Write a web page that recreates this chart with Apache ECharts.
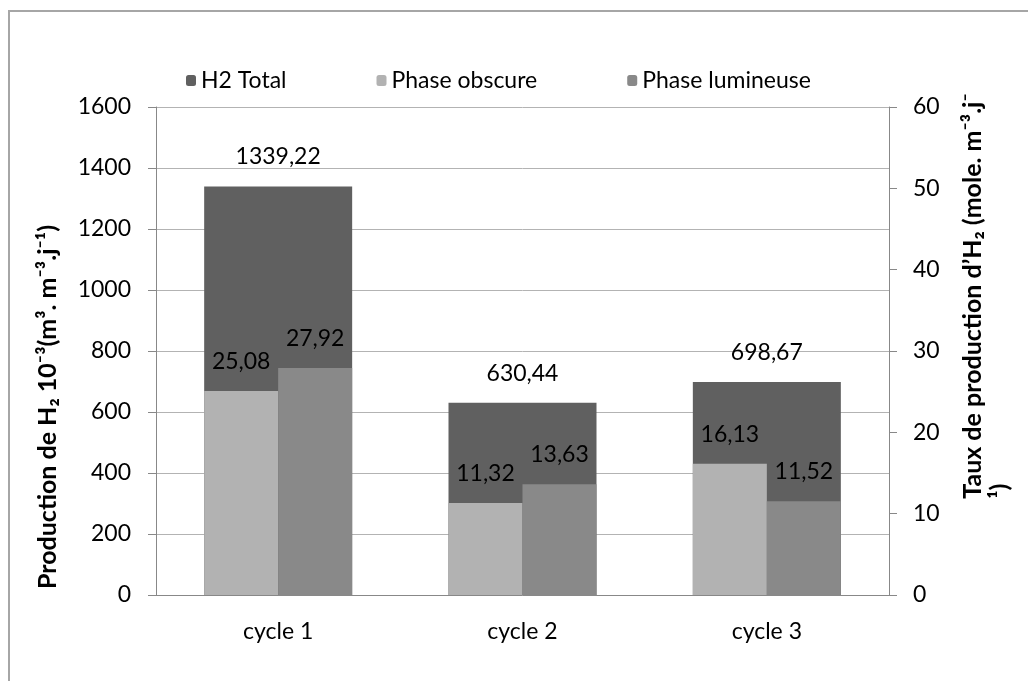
<!DOCTYPE html>
<html>
<head>
<meta charset="utf-8">
<script src="https://cdn.jsdelivr.net/npm/echarts@6/dist/echarts.min.js"></script>
<style>
  html, body { margin: 0; padding: 0; background: #fff; }
  #chart { width: 1028px; height: 681px; }
</style>
</head>
<body>
<div id="chart"></div>
<script>
  // values
  var categories = ["cycle 1", "cycle 2", "cycle 3"];
  var h2Total = [1339.22, 630.44, 698.67];
  var phaseObscure = [25.08, 11.32, 16.13];
  var phaseLumineuse = [27.92, 13.63, 11.52];
  var leftTicks = [0, 1600, 200];
  var rightTicks = [0, 60, 10];

  var font = "Lato, 'Liberation Sans', sans-serif";
  var fs = 23;

  function frNum(p) {
    return p.value.toFixed(2).replace(".", ",");
  }

  var titleRich = {
    b: { fontFamily: font, fontSize: 25, fontWeight: "bold", color: "#000", lineHeight: 27, align: "left" }
  };

  var chart = echarts.init(document.getElementById("chart"));

  var barLabel = {
    show: true,
    position: "top",
    distance: 18,
    fontSize: fs,
    color: "#000",
    fontFamily: font,
    formatter: frNum
  };

  chart.setOption({
    animation: false,
    textStyle: { fontFamily: font },
    graphic: [{
      type: "rect",
      shape: { x: 9, y: 11, width: 1100, height: 800 },
      style: { fill: "none", stroke: "#a6a6a6", lineWidth: 2 },
      silent: true
    }],
    legend: {
      left: 181,
      top: 64,
      itemWidth: 10,
      itemHeight: 11,
      itemGap: 90,
      textStyle: { fontSize: fs, color: "#000", fontFamily: font },
      data: ["H2 Total", "Phase obscure", "Phase lumineuse"]
    },
    grid: {
      left: 156,
      right: 139,
      top: 107,
      bottom: 86
    },
    xAxis: [
      {
        type: "category",
        data: categories,
        axisLine: { lineStyle: { color: "#888", width: 1 } },
        axisTick: { show: false },
        axisLabel: { fontSize: fs, color: "#000", margin: 25, fontFamily: font }
      },
      {
        type: "category",
        data: categories,
        show: false
      }
    ],
    yAxis: [
      {
        type: "value",
        min: leftTicks[0],
        max: leftTicks[1],
        interval: leftTicks[2],
        position: "left",
        axisLine: { show: true, lineStyle: { color: "#888" } },
        axisTick: { show: true, inside: false, length: 8, lineStyle: { color: "#888" } },
        splitLine: { lineStyle: { color: "#b3b3b3" } },
        axisLabel: { fontSize: fs, color: "#000", margin: 25, fontFamily: font, formatter: function (v) { return String(v); } },
        name: "{b|Production de H\u2082 10\u207B\u00B3(m\u00B3. m\u207B\u00B3.j\u207B\u00B9)}",
        nameLocation: "middle",
        nameRotate: 90,
        nameGap: 95,
        nameTextStyle: { rich: titleRich, padding: [0, 112, 0, 0] }
      },
      {
        type: "value",
        min: rightTicks[0],
        max: rightTicks[1],
        interval: rightTicks[2],
        position: "right",
        axisLine: { show: true, lineStyle: { color: "#888" } },
        axisTick: { show: true, inside: false, length: 8, lineStyle: { color: "#888" } },
        splitLine: { show: false },
        axisLabel: { fontSize: fs, color: "#000", margin: 24, fontFamily: font },
        name: "{b|Taux de production d\u2019H\u2082 (mole. m\u207B\u00B3.j\u207B}\n{b|\u00B9)}",
        nameLocation: "middle",
        nameRotate: 90,
        nameGap: 70,
        nameTextStyle: { rich: titleRich, padding: [0, 0, 0, 110] }
      }
    ],
    series: [
      {
        name: "H2 Total",
        type: "bar",
        xAxisIndex: 0,
        yAxisIndex: 0,
        barWidth: 148,
        data: h2Total,
        itemStyle: { color: "#606060" },
        label: barLabel
      },
      {
        name: "Phase obscure",
        type: "bar",
        xAxisIndex: 1,
        yAxisIndex: 1,
        barWidth: 74,
        barGap: 0,
        data: phaseObscure,
        itemStyle: { color: "#b2b2b2" },
        label: barLabel
      },
      {
        name: "Phase lumineuse",
        type: "bar",
        xAxisIndex: 1,
        yAxisIndex: 1,
        barWidth: 74,
        barGap: 0,
        data: phaseLumineuse,
        itemStyle: { color: "#898989" },
        label: barLabel
      }
    ]
  });
</script>
</body>
</html>
